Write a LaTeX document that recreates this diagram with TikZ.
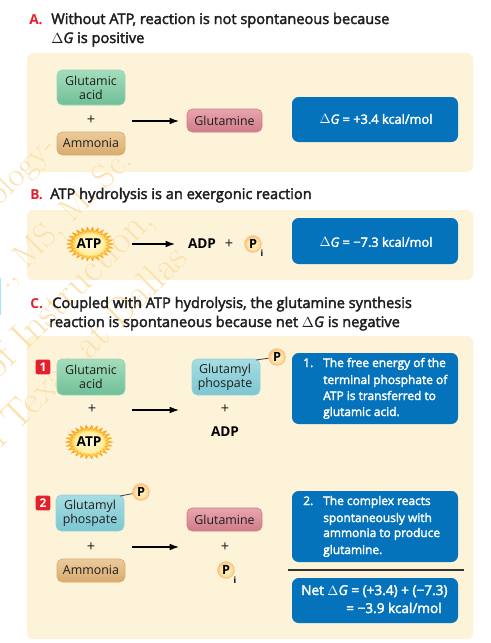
\documentclass[tikz,border=0pt]{standalone}
\usepackage{fontspec}
\setmainfont{Open Sans}
\newfontfamily\semifont[FakeBold=2.5]{Open Sans}
\usetikzlibrary{arrows.meta}
\definecolor{panel}{HTML}{FDF3D9}
\definecolor{bluebox}{HTML}{0473BC}
\definecolor{redlab}{HTML}{E4212B}
\definecolor{wm}{HTML}{FCE2B0}
\definecolor{txt}{HTML}{1E1E1E}
\definecolor{gt}{HTML}{A5DDBC}\definecolor{gb}{HTML}{6FBF98}
\definecolor{bt}{HTML}{A6DDE2}\definecolor{bb}{HTML}{7CC6D1}
\definecolor{rt}{HTML}{E8A5AD}\definecolor{rb}{HTML}{D07C88}
\definecolor{ot}{HTML}{EBCB9B}\definecolor{ob}{HTML}{D9AB6E}
\definecolor{bs0}{HTML}{FFFBE0}\definecolor{bs1}{HTML}{FFEFA0}\definecolor{bs2}{HTML}{FDBE40}\definecolor{bs3}{HTML}{F08A20}
\definecolor{ps0}{HTML}{FFF6C8}\definecolor{ps1}{HTML}{FFE9A8}\definecolor{ps2}{HTML}{F9C48A}
\pgfdeclareradialshading{burstshade}{\pgfpoint{0bp}{0bp}}{color(0bp)=(bs0); color(15bp)=(bs1); color(20bp)=(bs2); color(25bp)=(bs3); color(50bp)=(bs3)}
\pgfdeclareradialshading{pshade}{\pgfpoint{0bp}{0bp}}{color(0bp)=(ps0); color(14bp)=(ps1); color(25bp)=(ps2); color(50bp)=(ps2)}
\tikzset{
  x=0.75pt,y=-0.75pt,
  panelbox/.style={fill=panel,draw=none,rounded corners=4.5pt},
  infobox/.style={fill=bluebox,draw=none,rounded corners=5pt},
  mol/.style={rounded corners=4pt,line width=0.5pt},
  greenmol/.style={mol,draw=gb!70!white,top color=gt,bottom color=gb},
  bluemol/.style={mol,draw=bb!80!white,top color=bt,bottom color=bb},
  redmol/.style={mol,draw=rb,top color=rt,bottom color=rb},
  orangemol/.style={mol,draw=ob,top color=ot,bottom color=ob},
  head/.style={anchor=base west,inner sep=0pt,font=\semifont\fontsize{10.95}{12}\selectfont,text=txt},
  lab/.style={anchor=base west,inner sep=0pt,font=\fontsize{10.3}{12}\selectfont\bfseries,text=redlab},
  moltext/.style={inner sep=0pt,align=center,font=\fontsize{9.3}{10.5}\selectfont,text=txt},
  symb/.style={inner sep=0pt,font=\fontsize{11}{12}\selectfont,text=txt},
  boldt/.style={inner sep=0pt,font=\fontsize{10.2}{12}\selectfont\bfseries,text=black},
  subt/.style={inner sep=0pt,font=\fontsize{6.5}{7}\selectfont\bfseries,text=black},
  infot/.style={inner sep=0pt,font=\semifont\fontsize{9.6}{11}\selectfont,text=white},
  stept/.style={anchor=base west,inner sep=0pt,font=\semifont\fontsize{8.95}{10}\selectfont,text=white},
  nett/.style={anchor=base west,inner sep=0pt,font=\semifont\fontsize{10.2}{11}\selectfont,text=white},
  rxn/.style={line width=0.85pt,black,-{Latex[length=7pt,width=5pt]}},
  pcircle/.style={circle,minimum size=12.5pt,inner sep=0pt,draw=orange!50,line width=0.6pt,shading=pshade,font=\fontsize{9.5}{10}\selectfont\bfseries,text=black},
  badge/.style={fill=redlab,rounded corners=1.5pt,minimum width=11pt,minimum height=11pt,inner sep=0pt,text=white,font=\fontsize{9}{10}\selectfont\bfseries},
  wmtext/.style={font=\fontfamily{lmr}\fontseries{m}\fontshape{n}\fontsize{25.5}{28}\selectfont,text=wm,rotate=45,inner sep=0pt,anchor=base east},
  wmbig/.style={wmtext,font=\fontfamily{lmr}\fontseries{m}\fontshape{n}\fontsize{29.5}{32}\selectfont},
  link/.style={line width=0.6pt,draw=black!75}
}
\newcommand{\burst}[2]{%
  \shade[shading=burstshade,draw=orange!70!yellow,line width=0.3pt]
    plot[samples=52,domain=0:353.08] ({#1+(23.5*(1-0.27*mod(round(\x/6.923),2)))*cos(\x)},{#2+(17*(1-0.27*mod(round(\x/6.923),2)))*sin(\x)}) -- cycle;}
\begin{document}
\begin{tikzpicture}
\useasboundingbox (0,0) rectangle (490,643);
\fill[white] (0,0) rectangle (490,643);
\fill[blue!30!cyan!35] (0,278) rectangle (1,315);
% panels
\fill[panelbox] (27,53) rectangle (473,172);
\fill[panelbox] (27,210) rectangle (473,280);
\fill[panelbox] (27,336) rectangle (473,639);
% watermark
\begin{scope}
\clip (0,0) rectangle (490,643);
\node[wmtext] (wa) at (58,148) {ology-};
\node[wmtext] (wb) at (134,162) {., MS, M. Sc.};
\node[wmbig] (wc) at (156,222) {of Instruction,};
\node[wmbig] (wd) at (190,260) {of Texas at Dallas};
\end{scope}
% headings
\node[lab] (la) at (29,24) {A.};
\node[head] (ha) at (51,24) {Without ATP, reaction is not spontaneous because};
\node[head] (hb) at (51,43) {$\Delta$\textit{G} is positive};
\node[lab] (lb) at (30,199) {B.};
\node[head] (hc) at (50,199) {ATP hydrolysis is an exergonic reaction};
\node[lab] (lc) at (30,308) {C.};
\node[head] (hd) at (52,308) {Coupled with ATP hydrolysis, the glutamine synthesis};
\node[head] (he) at (49,327) {reaction is spontaneous because net $\Delta$\textit{G} is negative};
% panel A
\draw[greenmol] (57,70) rectangle (125,105);
\node[moltext] (a1) at (91,88) {Glutamic\\acid};
\node[symb] (a2) at (91,120) {+};
\draw[orangemol] (57,132) rectangle (125,155);
\node[moltext] (a3) at (91,143) {Ammonia};
\coordinate (a4s) at (132,121); \coordinate (a4e) at (179,121);
\draw[rxn] (a4s) -- (a4e);
\draw[redmol] (187,109) rectangle (262,132);
\node[moltext] (a5) at (224.5,120.5) {Glutamine};
\fill[infobox] (292,97) rectangle (458,142);
\node[infot] (a6) at (376,119) {$\Delta$\textit{G} = +3.4 kcal/mol};
% panel B
\burst{90}{244}
\node[boldt] (b1) at (89,244) {ATP};
\coordinate (b2s) at (132,244); \coordinate (b2e) at (175,244);
\draw[rxn] (b2s) -- (b2e);
\node[boldt] (b3) at (202,244) {ADP};
\node[symb] (b4) at (229,244) {+};
\node[pcircle] (b5) at (253,244) {P};
\node[subt] (b6) at (262,253) {i};
\fill[infobox] (292,218) rectangle (458,264);
\node[infot] (b7) at (376,242) {$\Delta$\textit{G} = −7.3 kcal/mol};
% panel C step 1
\node[badge] (c0) at (43,367) {1};
\draw[greenmol] (57,359) rectangle (125,395);
\node[moltext] (c1) at (91,377) {Glutamic\\acid};
\node[symb] (c2) at (92,409) {+};
\burst{89}{442}
\node[boldt] (c3) at (89,442) {ATP};
\coordinate (c4s) at (132,410); \coordinate (c4e) at (179,410);
\draw[rxn] (c4s) -- (c4e);
\draw[bluemol] (192,359) rectangle (260,395);
\node[moltext] (c5) at (225,377) {Glutamyl\\phospate};
\node[symb] (c6) at (225,409) {+};
\node[boldt] (c7) at (225,432) {ADP};
\coordinate (c9) at (256,360);
\node[pcircle] (c8) at (277,357) {P};
\draw[link] (c9) -- (c8);
\fill[infobox] (292,353) rectangle (458,424);
\node[stept] (t1n) at (303,367) {1.};
\node[stept] (t11) at (323,367) {The free energy of the};
\node[stept] (t12) at (323,384) {terminal phosphate of};
\node[stept] (t13) at (323,400) {ATP is transferred to};
\node[stept] (t14) at (323,416) {glutamic acid.};
% step 2
\node[badge] (d0) at (43,503) {2};
\draw[bluemol] (56,495) rectangle (124,531);
\node[moltext] (d1) at (90,513) {Glutamyl\\phospate};
\coordinate (d3) at (120,496);
\node[pcircle] (d2) at (141,492) {P};
\draw[link] (d3) -- (d2);
\node[symb] (d4) at (91,547) {+};
\draw[orangemol] (57,559) rectangle (125,582);
\node[moltext] (d5) at (91,570) {Ammonia};
\coordinate (d6s) at (132,547); \coordinate (d6e) at (179,547);
\draw[rxn] (d6s) -- (d6e);
\draw[redmol] (187,508) rectangle (262,531);
\node[moltext] (d7) at (224.5,519.5) {Glutamine};
\node[symb] (d8) at (225,547) {+};
\node[pcircle] (d9) at (226,570) {P};
\node[subt] (d10) at (235,580) {i};
\fill[infobox] (292,491) rectangle (458,562);
\node[stept] (t2n) at (303,505) {2.};
\node[stept] (t21) at (323,505) {The complex reacts};
\node[stept] (t22) at (323,522) {spontaneously with};
\node[stept] (t23) at (323,537) {ammonia to produce};
\node[stept] (t24) at (323,554) {glutamine.};
\coordinate (r1) at (288,570); \coordinate (r2) at (464,570);
\draw[line width=0.8pt,black!80] (r1) -- (r2);
\fill[infobox] (292,578) rectangle (458,623);
\node[nett] (t31) at (301,595) {Net $\Delta$\textit{G} = (+3.4) + (−7.3)};
\node[nett] (t32) at (346,613) {= −3.9 kcal/mol};
\end{tikzpicture}
\end{document}
